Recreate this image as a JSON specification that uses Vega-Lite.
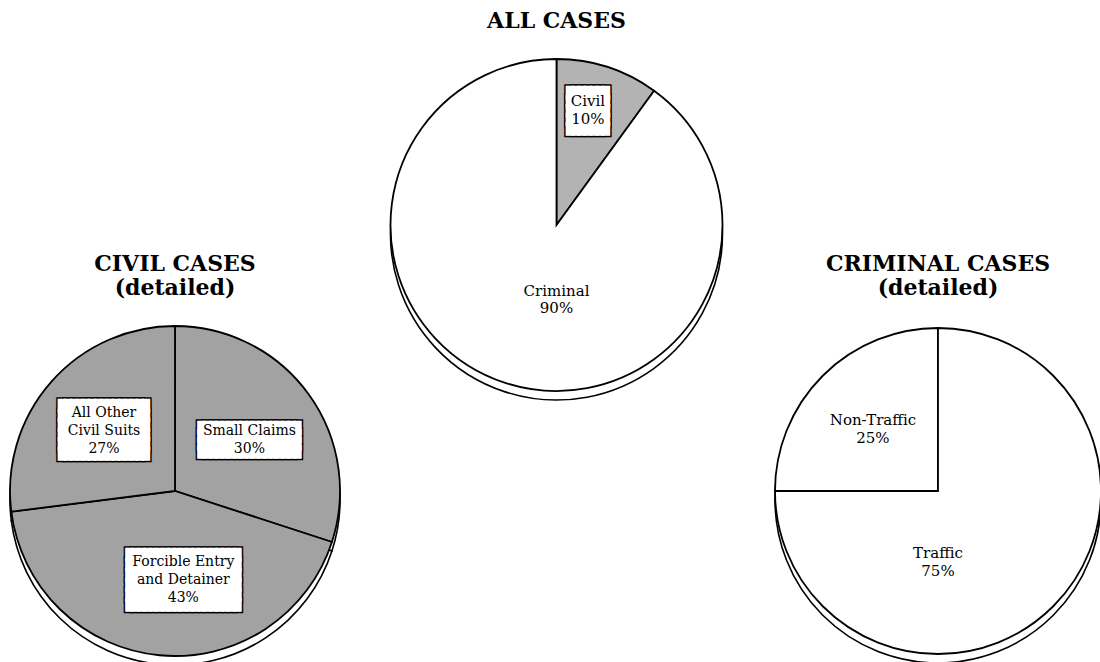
{
  "$schema": "https://vega.github.io/schema/vega-lite/v6.json",
  "width": 1100,
  "height": 662,
  "padding": 0,
  "autosize": {"type": "fit", "contains": "padding"},
  "background": "white",
  "config": {"view": {"stroke": null}, "font": "DejaVu Serif"},
  "datasets": {
    "slices": [
      {"chart": "all", "level": "summary", "category": "Civil", "share": 10, "label": "Civil\n10%"},
      {"chart": "all", "level": "summary", "category": "Criminal", "share": 90, "label": "Criminal\n90%"},
      {"chart": "civil", "level": "detailed", "category": "Small Claims", "share": 30, "label": "Small Claims\n30%"},
      {"chart": "civil", "level": "detailed", "category": "Forcible Entry and Detainer", "share": 43, "label": "Forcible Entry\nand Detainer\n43%"},
      {"chart": "civil", "level": "detailed", "category": "All Other Civil Suits", "share": 27, "label": "All Other\nCivil Suits\n27%"},
      {"chart": "criminal", "level": "detailed", "category": "Non-Traffic", "share": 25, "label": "Non-Traffic\n25%"},
      {"chart": "criminal", "level": "detailed", "category": "Traffic", "share": 75, "label": "Traffic\n75%"}
    ],
    "charts": [
      {"chart": "all", "level": "summary", "title": "ALL CASES"},
      {"chart": "civil", "level": "detailed", "title": "CIVIL CASES\n(detailed)"},
      {"chart": "criminal", "level": "detailed", "title": "CRIMINAL CASES\n(detailed)"}
    ]
  },
  "encoding": {
    "x": {"field": "chart", "type": "nominal", "axis": null, "scale": {"type": "point", "domain": ["civil", "all", "criminal"], "range": [175, 938], "padding": 0}},
    "y": {"field": "level", "type": "nominal", "axis": null, "scale": {"type": "point", "domain": ["summary", "detailed"], "range": [225, 491], "padding": 0}}
  },
  "layer": [
    {
      "data": {"name": "charts"},
      "transform": [{"filter": "datum.level === 'summary'"}],
      "mark": {"type": "text", "font": "DejaVu Serif", "fontWeight": "bold", "fontSize": 22, "lineHeight": 24, "lineBreak": "\n", "baseline": "middle", "align": "center", "dy": -204, "color": "black"},
      "encoding": {"text": {"field": "title"}}
    },
    {
      "data": {"name": "charts"},
      "transform": [{"filter": "datum.level === 'detailed'"}],
      "mark": {"type": "text", "font": "DejaVu Serif", "fontWeight": "bold", "fontSize": 22, "lineHeight": 24, "lineBreak": "\n", "baseline": "middle", "align": "center", "dy": -227, "color": "black"},
      "encoding": {"text": {"field": "title"}}
    },
    {
      "data": {"name": "slices"},
      "transform": [{"filter": "datum.chart === 'civil'"}],
      "encoding": {
        "theta": {"field": "share", "type": "quantitative", "stack": true, "scale": {"domain": [0, 100]}},
        "order": {"field": "category", "type": "ordinal", "sort": "descending"},
        "detail": {"field": "category", "type": "nominal"}
      },
      "layer": [
        {"mark": {"type": "arc", "outerRadius": 165, "fill": "white", "stroke": "black", "strokeWidth": 1.6, "yOffset": 9}},
        {
          "mark": {"type": "arc", "outerRadius": 165, "stroke": "black", "strokeWidth": 1.8},
          "encoding": {"color": {"field": "category", "type": "nominal", "legend": null, "scale": {"domain": ["Civil", "Criminal", "Small Claims", "Forcible Entry and Detainer", "All Other Civil Suits", "Non-Traffic", "Traffic"], "range": ["#b3b3b3", "#ffffff", "#a2a2a2", "#a2a2a2", "#a2a2a2", "#ffffff", "#ffffff"]}}}
        },
        {
          "encoding": {"text": {"condition": {"test": "datum.category === 'Small Claims'", "value": ["█████████████████", "█████████████████", "█████████████████", "█████████████████"]}, "value": ""}},
          "layer": [
            {"mark": {"type": "text", "radius": 92, "dy": -9, "font": "DejaVu Sans Mono", "fontSize": 10, "lineHeight": 8, "align": "center", "baseline": "middle", "fill": "black", "stroke": "black", "strokeWidth": 5}},
            {"mark": {"type": "text", "radius": 92, "dy": -9, "font": "DejaVu Sans Mono", "fontSize": 10, "lineHeight": 8, "align": "center", "baseline": "middle", "fill": "white", "stroke": "white", "strokeWidth": 2}}
          ]
        },
        {
          "encoding": {"text": {"condition": {"test": "datum.category === 'All Other Civil Suits'", "value": ["███████████████", "███████████████", "███████████████", "███████████████", "███████████████", "███████████████"]}, "value": ""}},
          "layer": [
            {"mark": {"type": "text", "radius": 92, "dx": -2, "dy": -24, "font": "DejaVu Sans Mono", "fontSize": 10, "lineHeight": 9.5, "align": "center", "baseline": "middle", "fill": "black", "stroke": "black", "strokeWidth": 5}},
            {"mark": {"type": "text", "radius": 92, "dx": -2, "dy": -24, "font": "DejaVu Sans Mono", "fontSize": 10, "lineHeight": 9.5, "align": "center", "baseline": "middle", "fill": "white", "stroke": "white", "strokeWidth": 2}}
          ]
        },
        {
          "encoding": {"text": {"condition": {"test": "datum.category === 'Forcible Entry and Detainer'", "value": ["███████████████████", "███████████████████", "███████████████████", "███████████████████", "███████████████████", "███████████████████"]}, "value": ""}},
          "layer": [
            {"mark": {"type": "text", "radius": 92, "dx": 17, "dy": -28, "font": "DejaVu Sans Mono", "fontSize": 10, "lineHeight": 10, "align": "center", "baseline": "middle", "fill": "black", "stroke": "black", "strokeWidth": 5}},
            {"mark": {"type": "text", "radius": 92, "dx": 17, "dy": -28, "font": "DejaVu Sans Mono", "fontSize": 10, "lineHeight": 10, "align": "center", "baseline": "middle", "fill": "white", "stroke": "white", "strokeWidth": 2}}
          ]
        },
        {
          "mark": {"type": "text", "radius": 92, "dy": -6, "font": "DejaVu Serif", "fontSize": 14, "lineHeight": 18, "lineBreak": "\n", "align": "center", "baseline": "middle", "color": "black"},
          "encoding": {"text": {"condition": {"test": "datum.category === 'Small Claims'", "field": "label"}, "value": ""}}
        },
        {
          "mark": {"type": "text", "radius": 92, "dx": -2, "dy": -17, "font": "DejaVu Serif", "fontSize": 14, "lineHeight": 18, "lineBreak": "\n", "align": "center", "baseline": "middle", "color": "black"},
          "encoding": {"text": {"condition": {"test": "datum.category === 'All Other Civil Suits'", "field": "label"}, "value": ""}}
        },
        {
          "mark": {"type": "text", "radius": 92, "dx": 17, "dy": -21, "font": "DejaVu Serif", "fontSize": 14, "lineHeight": 18, "lineBreak": "\n", "align": "center", "baseline": "middle", "color": "black"},
          "encoding": {"text": {"condition": {"test": "datum.category === 'Forcible Entry and Detainer'", "field": "label"}, "value": ""}}
        }
      ]
    },
    {
      "data": {"name": "slices"},
      "transform": [{"filter": "datum.chart === 'all'"}],
      "encoding": {
        "theta": {"field": "share", "type": "quantitative", "stack": true, "scale": {"domain": [0, 100]}},
        "order": {"field": "category", "type": "ordinal", "sort": "ascending"},
        "detail": {"field": "category", "type": "nominal"}
      },
      "layer": [
        {"mark": {"type": "arc", "outerRadius": 166, "fill": "white", "stroke": "black", "strokeWidth": 1.6, "yOffset": 9}},
        {
          "mark": {"type": "arc", "outerRadius": 166, "stroke": "black", "strokeWidth": 1.8},
          "encoding": {"color": {"field": "category", "type": "nominal", "legend": null}}
        },
        {
          "encoding": {"text": {"condition": {"test": "datum.category === 'Civil'", "value": ["███████", "███████", "███████", "███████", "███████"]}, "value": ""}},
          "layer": [
            {"mark": {"type": "text", "radius": 121, "dx": -6, "dy": -17, "font": "DejaVu Sans Mono", "fontSize": 10, "lineHeight": 9, "align": "center", "baseline": "middle", "fill": "black", "stroke": "black", "strokeWidth": 5}},
            {"mark": {"type": "text", "radius": 121, "dx": -6, "dy": -17, "font": "DejaVu Sans Mono", "fontSize": 10, "lineHeight": 9, "align": "center", "baseline": "middle", "fill": "white", "stroke": "white", "strokeWidth": 2}}
          ]
        },
        {
          "mark": {"type": "text", "radius": 121, "dx": -6, "dy": -9, "font": "DejaVu Serif", "fontSize": 15, "lineHeight": 18, "lineBreak": "\n", "align": "center", "baseline": "middle", "color": "black"},
          "encoding": {"text": {"condition": {"test": "datum.category === 'Civil'", "field": "label"}, "value": ""}}
        },
        {
          "mark": {"type": "text", "radius": 0, "dy": 66, "font": "DejaVu Serif", "fontSize": 15, "lineHeight": 17, "lineBreak": "\n", "align": "center", "baseline": "middle", "color": "black"},
          "encoding": {"text": {"condition": {"test": "datum.category === 'Criminal'", "field": "label"}, "value": ""}}
        }
      ]
    },
    {
      "data": {"name": "slices"},
      "transform": [{"filter": "datum.chart === 'criminal'"}],
      "encoding": {
        "theta": {"field": "share", "type": "quantitative", "stack": true, "scale": {"domain": [0, 100]}},
        "order": {"field": "category", "type": "ordinal", "sort": "descending"},
        "detail": {"field": "category", "type": "nominal"}
      },
      "layer": [
        {"mark": {"type": "arc", "outerRadius": 163, "fill": "white", "stroke": "black", "strokeWidth": 1.6, "yOffset": 9}},
        {
          "mark": {"type": "arc", "outerRadius": 163, "stroke": "black", "strokeWidth": 1.8},
          "encoding": {"color": {"field": "category", "type": "nominal", "legend": null}}
        },
        {
          "mark": {"type": "text", "radius": 92, "dy": -6, "font": "DejaVu Serif", "fontSize": 15, "lineHeight": 18, "lineBreak": "\n", "align": "center", "baseline": "middle", "color": "black"},
          "encoding": {"text": {"condition": {"test": "datum.category === 'Non-Traffic'", "field": "label"}, "value": ""}}
        },
        {
          "mark": {"type": "text", "radius": 0, "dy": 62, "font": "DejaVu Serif", "fontSize": 15, "lineHeight": 18, "lineBreak": "\n", "align": "center", "baseline": "middle", "color": "black"},
          "encoding": {"text": {"condition": {"test": "datum.category === 'Traffic'", "field": "label"}, "value": ""}}
        }
      ]
    }
  ]
}
